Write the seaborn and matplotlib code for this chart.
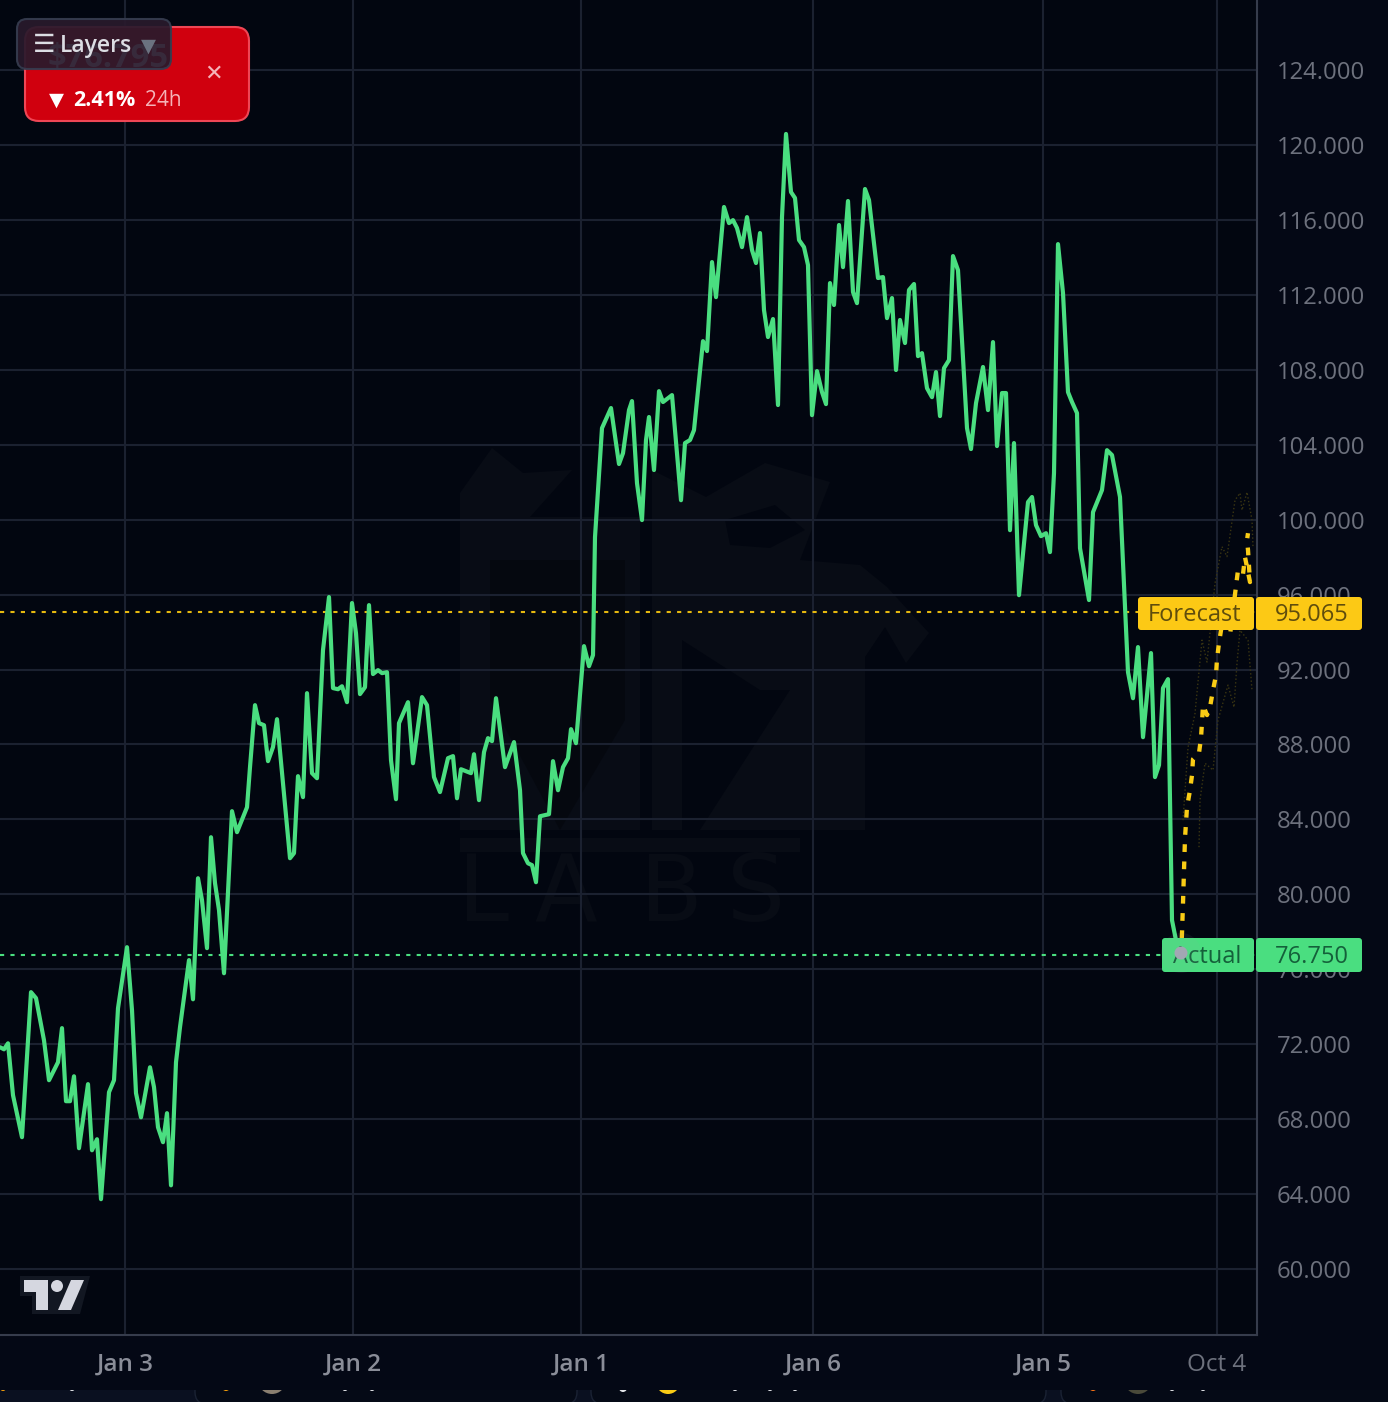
import matplotlib
matplotlib.use('Agg')
import matplotlib.pyplot as plt
import seaborn as sns
from matplotlib.patches import FancyBboxPatch, Polygon, Circle, Rectangle

# chart values, time axis is in chart units (one day is about 228)
actual_t = [0,4,8,13,22,31,36,44,49,58,62,66,70,74,79,88,92,97,101,109,114,118,127,132,136,141,150,154,158,163,167,171,176,180,189,193,
            198,202,207,211,215,219,224,232,237,247,250,255,259,264,268,273,277,290,294,298,303,307,312,317,323,329,333,338,342,347,352,356,360,365,369,373,378,382,387,391,396,399,408,413,
            422,427,434,440,448,453,457,461,471,474,479,484,488,492,496,505,514,520,523,528,532,536,540,549,553,558,563,568,571,576,584,589,593,
            595,602,611,619,623,629,632,637,642,646,649,654,659,663,672,681,685,690,694,703,707,712,716,719,724,729,733,737,742,747,752,756,760,764,768,773,778,782,786,791,795,799,804,808,812,
            817,822,826,830,834,839,843,848,853,857,865,869,878,883,887,892,896,900,905,909,914,918,922,927,932,936,940,944,949,953,958,967,971,976,983,988,993,997,1002,1006,1010,1014,
            1019,1028,1032,1036,1041,1046,1050,1054,1058,1063,1068,1072,1077,1080,1089,1093,1102,1107,1112,1120,1128,1133,1138,1143,1151,1155,1159,1163,1168,1172,1176,1180]
actual_price = [71.84,71.73,72.05,69.28,67.04,74.78,74.46,72.21,70.08,71.04,72.86,68.96,68.96,70.29,66.45,69.87,66.34,66.93,63.73,69.44,70.08,73.92,77.18,73.82,69.39,68.10,70.77,69.71,67.57,66.77,68.32,64.47,71.04,72.91,76.49,74.40,
                80.86,79.69,77.13,83.05,80.60,79.16,75.79,84.44,83.32,84.65,86.79,90.10,89.14,89.03,87.11,87.86,89.35,81.93,82.20,86.31,85.19,90.74,86.47,86.20,93.04,95.87,91.01,90.95,91.11,90.26,95.55,93.94,90.69,91.06,95.44,91.76,91.97,91.81,91.86,87.16,85.08,89.14,90.26,87.00,
                90.53,90.10,86.26,85.46,87.27,87.38,85.13,86.68,86.47,87.48,85.03,87.59,88.34,88.18,90.47,86.79,88.13,85.56,82.20,81.66,81.56,80.65,84.17,84.28,87.11,85.56,86.79,87.27,88.82,88.07,93.25,92.18,92.77,
                99.07,104.89,105.96,102.97,103.55,105.85,106.33,101.95,99.98,104.25,105.48,102.65,106.86,106.28,106.65,101.04,104.09,104.25,104.78,109.53,109.00,113.75,111.88,113.70,116.69,115.83,115.99,115.57,114.55,116.15,114.39,113.70,115.30,111.19,109.75,110.71,106.12,116.15,120.59,117.49,117.17,114.93,114.55,113.59,105.58,
                107.93,106.81,106.17,112.63,111.46,115.73,113.48,117.01,112.15,111.56,117.65,117.06,112.90,112.95,110.76,111.83,107.99,110.66,109.43,112.26,112.58,108.73,108.89,107.02,106.54,107.88,105.53,108.09,108.52,114.07,113.32,104.89,103.77,106.22,108.15,105.85,109.48,103.93,106.76,106.76,99.44,104.09,
                95.97,100.94,101.21,99.71,99.12,99.28,98.27,102.49,114.71,112.10,106.81,106.28,105.69,98.48,95.71,100.40,101.58,103.71,103.45,101.21,91.86,90.47,93.20,88.39,92.88,86.26,86.90,91.01,91.49,78.62,77.55,76.75]

forecast_t = [1181,1182,1183,1184,1185,1187,1190,1192,1193,1199,1201,1202,1203,1207,1210,1213,1216,1217,1219,1221,1225,1230,1236,1238,1243,1245,1250,1249,1248,1247,1248]
forecast_price = [76.75,77.93,79.53,81.29,83.00,84.65,85.56,86.36,87.22,87.54,88.34,89.19,90.10,89.57,89.99,90.90,91.70,92.56,93.41,94.10,95.07,93.84,96.45,97.31,97.09,98.00,96.67,97.52,98.38,98.91,99.28]

upper_t = [1183,1188,1195,1202,1207,1215,1222,1227,1235,1240,1242,1247,1252,1253]
upper_price = [83.96,87.84,89.66,93.57,92.40,96.60,98.56,98.03,101.04,101.42,100.51,101.47,99.98,98.54]
lower_t = [1199,1200,1205,1213,1218,1228,1234,1237,1240,1248,1252]
lower_price = [82.52,85.03,87.00,86.63,89.30,91.17,89.99,92.34,94.10,93.57,90.90]

forecast_last = 95.065
actual_last = 76.75

y_ticks = [124,120,116,112,108,104,100,96,92,88,84,80,76,72,68,64,60]
x_ticks = [125,353,581,813,1043,1217]
x_labels = ['Jan 3','Jan 2','Jan 1','Jan 6','Jan 5','Oct 4']

BG = '#020610'
GRID = '#1b2130'
AXIS = '#363c4c'
GREEN = '#4ade80'
YELLOW = '#facc15'
W, H = 1388, 1402

sns.set_theme(style='dark')
plt.rcParams['font.family'] = ['Open Sans', 'DejaVu Sans']

fig = plt.figure(figsize=(W / 100, H / 100), dpi=100, facecolor='#040815')


def px_axes(z):
    a = fig.add_axes([0, 0, 1, 1], zorder=z)
    a.set_xlim(0, W)
    a.set_ylim(H, 0)
    a.axis('off')
    a.patch.set_alpha(0)
    return a


# background + faint watermark
back = px_axes(0)
back.add_patch(Rectangle((0, 0), 1257, 1335, color=BG, lw=0))
wm = '#080c15'
back.add_patch(Polygon([(460,493),(492,448),(523,473),(572,470),(530,517),(640,517),(640,830),(460,830)], color=wm, lw=0))
back.add_patch(Polygon([(652,470),(706,497),(765,463),(830,482),(800,560),(860,565),(887,587),(929,633),(906,663),(885,627),(865,657),(865,830),(652,830)], color=wm, lw=0))
back.add_patch(Polygon([(682,640),(760,690),(790,690),(700,830),(682,830)], color=BG, lw=0))
back.add_patch(Polygon([(725,520),(775,505),(805,530),(770,548),(730,545)], color=BG, lw=0))
back.add_patch(Polygon([(490,560),(625,560),(625,720),(560,830),(490,700)], color='#05080f', lw=0))
back.add_patch(Rectangle((460, 838), 340, 14, color=wm, lw=0))
for letter, x in zip('LABS', [458, 534, 640, 727]):
    back.text(x, 895, letter, color=wm, fontsize=66, va='center', ha='left', family='DejaVu Sans')

# main chart
ax = fig.add_axes([0, 1 - 1335 / H, 1257 / W, 1335 / H], zorder=1)
ax.patch.set_alpha(0)
sns.lineplot(x=upper_t, y=upper_price, sort=False, estimator=None, ax=ax, color='#3a3512', lw=1, linestyle=':')
sns.lineplot(x=lower_t, y=lower_price, sort=False, estimator=None, ax=ax, color='#3a3512', lw=1, linestyle=':')
sns.lineplot(x=actual_t, y=actual_price, sort=False, estimator=None, ax=ax, color=GREEN, lw=3,
             solid_joinstyle='round', zorder=4)
sns.lineplot(x=forecast_t, y=forecast_price, sort=False, estimator=None, ax=ax, color=YELLOW, lw=3.1,
             linestyle=(0, (1.8, 2.2)), zorder=5)
ax.axhline(forecast_last, color='#e6b80f', lw=1.5, linestyle=(0, (2, 3)), zorder=3)
ax.axhline(actual_last, color=GREEN, lw=1.5, linestyle=(0, (2, 3)), zorder=3)

ax.set_xlim(0, 1257)
ax.set_ylim(56.48, 127.74)
ax.set_xticks(x_ticks)
ax.set_xticklabels(x_labels)
ax.set_yticks(y_ticks)
ax.set_yticklabels([f'{v}.000' for v in y_ticks])
ax.yaxis.tick_right()
ax.set_xlabel('')
ax.set_ylabel('')
ax.grid(True, color=GRID, lw=1.5)
ax.set_axisbelow(True)
ax.tick_params(axis='x', length=0, pad=13, labelsize=17.5, labelcolor='#8a8d98')
ax.tick_params(axis='y', length=0, pad=14, labelsize=17.2, labelcolor='#6d717d', right=False)
for lab in ax.get_xticklabels():
    if lab.get_text().startswith('Jan'):
        lab.set_fontweight('semibold')
    else:
        lab.set_color('#6d717d')
for side in ['left', 'top']:
    ax.spines[side].set_visible(False)
for side in ['right', 'bottom']:
    ax.spines[side].set_color(AXIS)
    ax.spines[side].set_linewidth(1.5)

# overlay: price tags, cards, logo
top = px_axes(5)


def tag(x0, x1, y0, y1, color):
    top.add_patch(FancyBboxPatch((x0 + 3, y0 + 3), x1 - x0 - 6, y1 - y0 - 6, boxstyle='round,pad=3,rounding_size=3',
                                 fc=color, ec='none'))


tag(1138, 1254, 597, 630, '#fcc915')
tag(1256, 1362, 597, 630, '#fcc915')
top.text(1195, 615, 'Forecast', color='#5f4d0d', fontsize=17, ha='center', va='center')
top.text(1312, 615, f'{forecast_last:.3f}', color='#5f4d0d', fontsize=17, ha='center', va='center')

tag(1162, 1254, 938, 972, GREEN)
tag(1256, 1362, 938, 972, GREEN)
top.text(1207, 957, 'Actual', color='#14603a', fontsize=17, ha='center', va='center')
top.text(1312, 957, f'{actual_last:.3f}', color='#14603a', fontsize=17, ha='center', va='center')
top.add_patch(Circle((1181, 953), 20, color='#9ca3af', alpha=0.08, lw=0, zorder=4))
top.add_patch(Circle((1181, 953), 6.5, color='#a3a7b3', lw=0, zorder=4))

# red price card with layers button over it
top.add_patch(FancyBboxPatch((37, 39), 200, 70, boxstyle='round,pad=12,rounding_size=14', fc='#d0000e', ec='#ef4655', lw=1.5, zorder=1))
top.text(48, 59, '$76.795', color='white', fontsize=23.5, fontweight='bold', ha='left', va='center', zorder=2)
top.text(56, 100, '▼', color='white', fontsize=14, ha='center', va='center', family='DejaVu Sans', zorder=2)
top.text(73, 100, '2.41%', color='white', fontsize=15.5, fontweight='bold', ha='left', va='center', zorder=2)
top.text(145, 100, '24h', color='#f5b3b8', fontsize=15, ha='left', va='center', zorder=2)
top.text(214, 74, '✕', color='#f5b3b8', fontsize=16, ha='center', va='center', family='DejaVu Sans', zorder=2)
top.add_patch(FancyBboxPatch((25, 27), 138, 34, boxstyle='round,pad=8,rounding_size=10', fc='#281a2c', ec='#363c4f', lw=1.5, alpha=0.93, zorder=3))
top.text(44, 45, '☰', color='#dcdde3', fontsize=18, ha='center', va='center', family='DejaVu Sans', zorder=4)
top.text(60, 46, 'Layers', color='#dcdde3', fontsize=16.5, fontweight='semibold', ha='left', va='center', zorder=4)
top.text(148, 46, '▼', color='#6b7280', fontsize=14, ha='center', va='center', family='DejaVu Sans', zorder=4)

# tradingview mark
top.add_patch(Polygon([(20,1276),(90,1276),(80,1314),(32,1314),(32,1296),(20,1296)], color='#121722', lw=0))
top.add_patch(Polygon([(24,1280),(48,1280),(48,1310),(36,1310),(36,1292),(24,1292)], color='#d5d7e0', lw=0))
top.add_patch(Circle((57, 1286), 6, color='#d5d7e0', lw=0))
top.add_patch(Polygon([(71,1280),(84,1280),(71,1310),(58,1310)], color='#d5d7e0', lw=0))

# cut off row of cards at the bottom edge
strip = Rectangle((0, 1390), W, 12, color='#0a1020', lw=0)
top.add_patch(strip)
for x0, x1 in [(195, 577), (591, 1046), (1061, 1500)]:
    card = top.add_patch(FancyBboxPatch((x0, 1300), x1 - x0, 104, boxstyle='round,pad=0,rounding_size=12', fc='#050a16', ec='#1a2233', lw=1))
    card.set_clip_path(strip)
for x, y, r, c in [(3,1388,3,'#f59e0b'),(72,1388,3,'#e5e7eb'),(226,1387,4,'#f59e0b'),(272,1380,14,'#8a7f70'),(345,1388,3,'#e5e7eb'),(372,1388,3,'#e5e7eb'),
                   (623,1388,4,'#e5e7eb'),(668,1382,12,'#facc15'),(735,1388,3,'#e5e7eb'),(770,1388,3,'#e5e7eb'),(795,1388,3,'#e5e7eb'),
                   (1093,1387,4,'#f97316'),(1138,1380,14,'#4a4a3a'),(1172,1388,3,'#e5e7eb'),(1203,1388,3,'#e5e7eb')]:
    dot = top.add_patch(Circle((x, y), r, color=c, lw=0, zorder=2))
    dot.set_clip_path(strip)

fig.savefig('out.png', dpi=100, facecolor=fig.get_facecolor())
